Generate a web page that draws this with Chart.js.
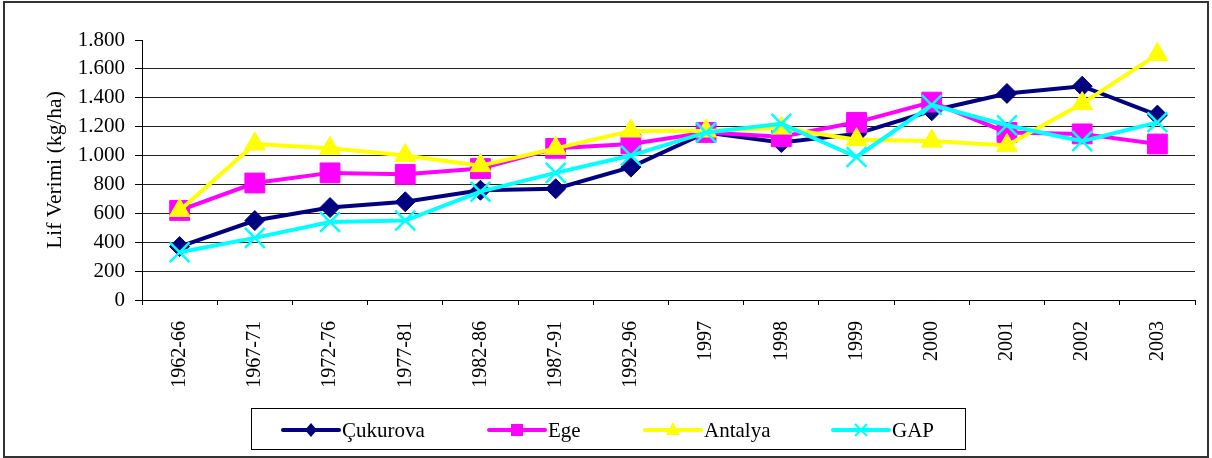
<!DOCTYPE html>
<html>
<head>
<meta charset="utf-8">
<script src="https://cdn.jsdelivr.net/npm/chart.js@4.4.0/dist/chart.umd.min.js"></script>
<style>
  html, body { margin: 0; padding: 0; background: #fff; }
  #wrap { width: 1212px; height: 458px; }
</style>
</head>
<body>
<div id="wrap"><canvas id="chart" width="1212" height="458"></canvas></div>
<script>
const periods = ["1962-66", "1967-71", "1972-76", "1977-81", "1982-86", "1987-91", "1992-96",
  "1997", "1998", "1999", "2000", "2001", "2002", "2003"];

// lint yield, kg/ha
const cukurova = [370, 550, 640, 680, 760, 770, 920, 1160, 1090, 1150, 1310, 1430, 1480, 1280];
const ege = [620, 810, 880, 870, 910, 1050, 1080, 1160, 1130, 1230, 1370, 1160, 1150, 1080];
const antalya = [620, 1080, 1050, 1000, 930, 1050, 1170, 1170, 1190, 1110, 1100, 1070, 1360, 1700];
const gap = [330, 430, 540, 550, 750, 880, 1000, 1160, 1220, 990, 1350, 1210, 1100, 1230];

const yTicks = [0, 200, 400, 600, 800, 1000, 1200, 1400, 1600, 1800];

const FONT = "'Liberation Serif', 'Times New Roman', serif";

function fmt(v) {
  return String(v).replace(/\B(?=(\d{3})+(?!\d))/g, ".");
}

// draws the legend box at the bottom, like the excel one
const legendBox = {
  id: "legendBox",
  afterDraw(chart) {
    const ctx = chart.ctx;
    ctx.save();
    ctx.strokeStyle = "#000";
    ctx.lineWidth = 1;
    ctx.strokeRect(251.5, 408.5, 714, 41);

    const xs = [283, 489, 645, 833];
    const y = 430;
    chart.data.datasets.forEach((ds, i) => {
      const x0 = xs[i];
      ctx.strokeStyle = ds.borderColor;
      ctx.lineWidth = 4;
      ctx.lineCap = "round";
      ctx.beginPath();
      ctx.moveTo(x0, y);
      ctx.lineTo(x0 + 56, y);
      ctx.stroke();
      const cx = x0 + 28;
      ctx.fillStyle = ds.borderColor;
      ctx.beginPath();
      if (ds.pointStyle === "rectRot") {
        ctx.moveTo(cx, y - 7); ctx.lineTo(cx + 6, y); ctx.lineTo(cx, y + 7); ctx.lineTo(cx - 6, y);
        ctx.closePath(); ctx.fill();
      } else if (ds.pointStyle === "rect") {
        ctx.fillRect(cx - 6, y - 6, 12, 12);
      } else if (ds.pointStyle === "triangle") {
        ctx.moveTo(cx, y - 8); ctx.lineTo(cx + 7, y + 5); ctx.lineTo(cx - 7, y + 5);
        ctx.closePath(); ctx.fill();
      } else {
        ctx.lineWidth = 2;
        ctx.lineCap = "butt";
        ctx.moveTo(cx - 6, y - 6); ctx.lineTo(cx + 6, y + 6);
        ctx.moveTo(cx + 6, y - 6); ctx.lineTo(cx - 6, y + 6);
        ctx.stroke();
      }
      ctx.fillStyle = "#000";
      ctx.font = "21px " + FONT;
      ctx.textBaseline = "middle";
      ctx.textAlign = "left";
      ctx.fillText(ds.label, x0 + 59, y + 1);
    });

    // outer frame
    ctx.strokeStyle = "#333";
    ctx.lineWidth = 2;
    ctx.strokeRect(4, 2, 1204, 455);
    ctx.restore();
  }
};

const ctx = document.getElementById("chart").getContext("2d");
new Chart(ctx, {
  type: "line",
  data: {
    labels: periods,
    datasets: [
      {
        label: "Çukurova", data: cukurova, order: 4,
        borderColor: "#000080", backgroundColor: "#000080",
        pointStyle: "rectRot", pointRadius: 10, pointBorderWidth: 1
      },
      {
        label: "Ege", data: ege, order: 3,
        borderColor: "#FF00FF", backgroundColor: "#FF00FF",
        pointStyle: "rect", pointRadius: 14, pointBorderWidth: 1
      },
      {
        label: "Antalya", data: antalya, order: 2,
        borderColor: "#FFFF00", backgroundColor: "#FFFF00",
        pointStyle: "triangle", pointRadius: 12, pointBorderWidth: 1
      },
      {
        label: "GAP", data: gap, order: 1,
        borderColor: "#00FFFF", backgroundColor: "#00FFFF",
        pointStyle: "crossRot", pointRadius: 14, pointBorderWidth: 2.5
      }
    ]
  },
  options: {
    responsive: false,
    animation: false,
    layout: { padding: { top: 40, right: 17, left: 0, bottom: 0 } },
    elements: { line: { borderWidth: 4, tension: 0 } },
    plugins: {
      legend: { display: false },
      tooltip: { enabled: false }
    },
    scales: {
      x: {
        offset: true,
        afterFit: (s) => { s.height = 158; },
        grid: { offset: true, drawOnChartArea: false, drawTicks: true, tickLength: 5, color: "#000" },
        border: { color: "#000", width: 1 },
        ticks: {
          minRotation: 90, maxRotation: 90, autoSkip: false, padding: 16,
          color: "#000", font: { family: FONT, size: 20 }
        }
      },
      y: {
        min: 0, max: 1800,
        afterFit: (s) => { s.width = 142; },
        afterBuildTicks: (s) => { s.ticks = yTicks.map((v) => ({ value: v })); },
        grid: {
          color: (c) => (c.tick && c.tick.value === 1800 ? "rgba(0,0,0,0)" : "#222"),
          tickColor: "#000", tickLength: 7, lineWidth: 1
        },
        border: { color: "#000", width: 1 },
        ticks: {
          padding: 10, color: "#000",
          font: { family: FONT, size: 21 },
          callback: (v) => fmt(v)
        },
        title: {
          display: true, text: "Lif Verimi (kg/ha)", color: "#000",
          font: { family: FONT, size: 21.5 }, padding: { top: 42, bottom: 0 }
        }
      }
    }
  },
  plugins: [legendBox]
});
</script>
</body>
</html>
